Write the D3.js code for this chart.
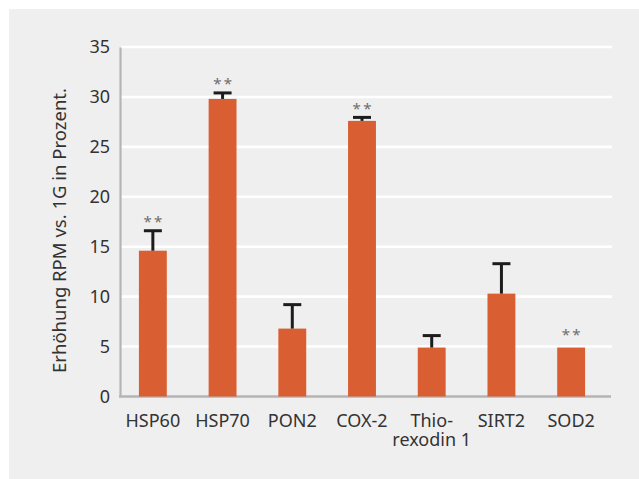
<!DOCTYPE html>
<html>
<head>
<meta charset="utf-8">
<script src="https://cdn.jsdelivr.net/npm/d3@7"></script>
<style>
  html, body { margin: 0; padding: 0; background: #ffffff; }
  svg { display: block; }
  text { font-family: "Noto Sans", "Open Sans", sans-serif; fill: #333333; }
</style>
</head>
<body>
<svg id="chart" width="639" height="479"></svg>
<script>
const categories = ["HSP60", "HSP70", "PON2", "COX-2", "Thio-\nrexodin 1", "SIRT2", "SOD2"];
const values = [14.6, 29.8, 6.8, 27.6, 4.9, 10.3, 4.9];
const errors = [2.0, 0.6, 2.4, 0.35, 1.2, 3.0, 0];
const significant = [true, true, false, true, false, false, true];
const yTicks = [0, 5, 10, 15, 20, 25, 30, 35];
const yLabel = "Erhöhung RPM vs. 1G in Prozent.";

const svg = d3.select("#chart");

// background panel
svg.append("rect").attr("x", 9).attr("y", 9).attr("width", 630).attr("height", 470).attr("fill", "#efefef");

const x = d3.scaleBand().domain(categories).range([118, 606]).paddingInner(0.6).paddingOuter(0.3);
const y = d3.scaleLinear().domain([0, 35]).range([396.5, 47]);

// gridlines
svg.append("g").selectAll("line").data(yTicks.filter(t => t > 0)).join("line")
  .attr("x1", 121).attr("x2", 612)
  .attr("y1", d => y(d)).attr("y2", d => y(d))
  .attr("stroke", "#ffffff").attr("stroke-width", 2.6);

// y axis
const yAxis = d3.axisLeft(y).tickValues(yTicks).tickSize(0).tickPadding(10);
const gy = svg.append("g").attr("transform", "translate(120,0)").call(yAxis);
gy.select(".domain").attr("stroke", "#b4b4b4").attr("stroke-width", 2.2);
gy.selectAll("text").style("font-size", "18px").attr("fill", "#333333")
  .style("font-family", '"Noto Sans", sans-serif');

// x axis
const xAxis = d3.axisBottom(x).tickSize(0).tickPadding(0).tickFormat("");
const gx = svg.append("g").attr("transform", `translate(0,${y(0)})`).call(xAxis);
gx.select(".domain").attr("d", `M119,0H611`).attr("stroke", "#b4b4b4").attr("stroke-width", 2.4);

// x labels (multi-line)
const lab = svg.append("g").selectAll("text").data(categories).join("text")
  .attr("x", d => x(d) + x.bandwidth() / 2)
  .attr("y", 427)
  .attr("text-anchor", "middle")
  .style("font-size", "18px");
lab.each(function(d) {
  const lines = d.split("\n");
  d3.select(this).selectAll("tspan").data(lines).join("tspan")
    .attr("x", x(d) + x.bandwidth() / 2)
    .attr("dy", (l, i) => i === 0 ? 0 : 19)
    .text(l => l);
});

// bars
svg.append("g").selectAll("rect").data(categories).join("rect")
  .attr("x", d => x(d))
  .attr("y", (d, i) => y(values[i]))
  .attr("width", x.bandwidth())
  .attr("height", (d, i) => y(0) - y(values[i]))
  .attr("fill", "#d95e32");

// error bars
const eg = svg.append("g");
categories.forEach((c, i) => {
  if (!errors[i]) return;
  const cx = x(c) + x.bandwidth() / 2;
  eg.append("line").attr("x1", cx).attr("x2", cx)
    .attr("y1", y(values[i])).attr("y2", y(values[i] + errors[i]))
    .attr("stroke", "#1c1c1c").attr("stroke-width", 3);
  eg.append("line").attr("x1", cx - 9).attr("x2", cx + 9)
    .attr("y1", y(values[i] + errors[i])).attr("y2", y(values[i] + errors[i]))
    .attr("stroke", "#1c1c1c").attr("stroke-width", 3);
});

// significance stars
const sg = svg.append("g");
categories.forEach((c, i) => {
  if (!significant[i]) return;
  const cx = x(c) + x.bandwidth() / 2;
  const gap = errors[i] ? 12 : 16;
  const top = y(values[i] + errors[i]) - gap;
  [-5.3, 5.3].forEach(dx => {
    sg.append("text").attr("x", cx + dx).attr("y", top + 8.5)
      .attr("text-anchor", "middle")
      .style("font-size", "15px")
      .style("fill", "#6e6e6e")
      .text("*");
  });
});

// y label
svg.append("text")
  .attr("transform", "translate(66,230.5) rotate(-90)")
  .attr("text-anchor", "middle")
  .style("font-size", "18.5px")
  .text(yLabel);
</script>
</body>
</html>
